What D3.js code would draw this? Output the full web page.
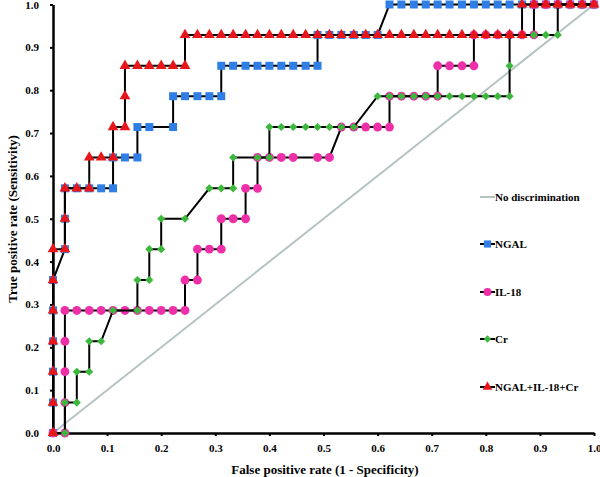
<!DOCTYPE html>
<html><head><meta charset="utf-8">
<script src="https://cdn.jsdelivr.net/npm/d3@7"></script>
<style>
html,body{margin:0;padding:0;background:#fff;}
svg text{font-family:"Liberation Serif","Times New Roman",serif;font-weight:bold;fill:#000;}
</style></head>
<body><svg id="c" width="600" height="477"></svg>
<script>
const xTicks = [0,0.1,0.2,0.3,0.4,0.5,0.6,0.7,0.8,0.9,1.0];
const yTicks = [0,0.1,0.2,0.3,0.4,0.5,0.6,0.7,0.8,0.9,1.0];
const legendLabels = ["No discrimination","NGAL","IL-18","Cr","NGAL+IL-18+Cr"];

const ngal = [[0,0],[0,0.071],[0,0.143],[0,0.214],[0,0.286],[0,0.357],[0.022,0.429],[0.022,0.5],[0.022,0.571],[0.044,0.571],[0.067,0.571],[0.089,0.571],[0.111,0.571],[0.111,0.643],[0.133,0.643],[0.156,0.643],[0.156,0.714],[0.178,0.714],[0.222,0.714],[0.222,0.786],[0.244,0.786],[0.267,0.786],[0.289,0.786],[0.311,0.786],[0.311,0.857],[0.333,0.857],[0.356,0.857],[0.378,0.857],[0.4,0.857],[0.422,0.857],[0.444,0.857],[0.467,0.857],[0.489,0.857],[0.489,0.929],[0.511,0.929],[0.533,0.929],[0.556,0.929],[0.578,0.929],[0.6,0.929],[0.622,1],[0.644,1],[0.667,1],[0.689,1],[0.711,1],[0.733,1],[0.756,1],[0.778,1],[0.8,1],[0.822,1],[0.844,1],[0.867,1],[0.889,1],[0.911,1],[0.933,1],[0.956,1],[0.978,1],[1,1]];

const il18 = [[0,0],[0.022,0],[0.022,0.071],[0.022,0.143],[0.022,0.214],[0.022,0.286],[0.044,0.286],[0.067,0.286],[0.089,0.286],[0.111,0.286],[0.133,0.286],[0.156,0.286],[0.178,0.286],[0.2,0.286],[0.222,0.286],[0.244,0.286],[0.244,0.357],[0.267,0.357],[0.267,0.429],[0.289,0.429],[0.311,0.429],[0.311,0.5],[0.333,0.5],[0.356,0.5],[0.356,0.571],[0.378,0.571],[0.378,0.643],[0.4,0.643],[0.422,0.643],[0.444,0.643],[0.489,0.643],[0.511,0.643],[0.533,0.714],[0.556,0.714],[0.578,0.714],[0.6,0.714],[0.622,0.714],[0.622,0.786],[0.644,0.786],[0.667,0.786],[0.689,0.786],[0.711,0.786],[0.711,0.857],[0.733,0.857],[0.756,0.857],[0.778,0.857],[0.778,0.929],[0.8,0.929],[0.822,0.929],[0.844,0.929],[0.867,0.929],[0.889,0.929],[0.889,1],[0.911,1],[0.933,1],[0.956,1],[0.978,1],[1,1]];

const cr = [[0,0],[0.022,0],[0.022,0.071],[0.044,0.071],[0.044,0.143],[0.067,0.143],[0.067,0.214],[0.089,0.214],[0.111,0.286],[0.156,0.286],[0.156,0.357],[0.178,0.357],[0.178,0.429],[0.2,0.429],[0.2,0.5],[0.244,0.5],[0.289,0.571],[0.311,0.571],[0.333,0.571],[0.333,0.643],[0.378,0.643],[0.4,0.643],[0.4,0.714],[0.422,0.714],[0.444,0.714],[0.467,0.714],[0.489,0.714],[0.511,0.714],[0.533,0.714],[0.556,0.714],[0.6,0.786],[0.622,0.786],[0.644,0.786],[0.667,0.786],[0.689,0.786],[0.711,0.786],[0.733,0.786],[0.756,0.786],[0.778,0.786],[0.8,0.786],[0.822,0.786],[0.844,0.786],[0.844,0.857],[0.844,0.929],[0.867,0.929],[0.889,0.929],[0.911,0.929],[0.933,0.929],[0.933,1],[0.956,1],[0.978,1],[1,1]];

const combo = [[0,0],[0,0.071],[0,0.143],[0,0.214],[0,0.286],[0,0.357],[0,0.429],[0.022,0.429],[0.022,0.5],[0.022,0.571],[0.044,0.571],[0.067,0.571],[0.067,0.643],[0.089,0.643],[0.111,0.643],[0.111,0.714],[0.133,0.714],[0.133,0.786],[0.133,0.857],[0.156,0.857],[0.178,0.857],[0.2,0.857],[0.222,0.857],[0.244,0.857],[0.244,0.929],[0.267,0.929],[0.289,0.929],[0.311,0.929],[0.333,0.929],[0.356,0.929],[0.378,0.929],[0.4,0.929],[0.422,0.929],[0.444,0.929],[0.467,0.929],[0.489,0.929],[0.511,0.929],[0.533,0.929],[0.556,0.929],[0.578,0.929],[0.6,0.929],[0.622,0.929],[0.644,0.929],[0.667,0.929],[0.689,0.929],[0.711,0.929],[0.733,0.929],[0.756,0.929],[0.778,0.929],[0.8,0.929],[0.822,0.929],[0.844,0.929],[0.867,0.929],[0.867,1],[0.889,1],[0.911,1],[0.933,1],[0.956,1],[0.978,1],[1,1]];

const diag = [[0,0],[1,1]];

const svg = d3.select("#c");
const x = d3.scaleLinear().domain([0,1]).range([53,594]);
const y = d3.scaleLinear().domain([0,1]).range([433,4.5]);

const line = d3.line().x(d=>x(d[0])).y(d=>y(d[1]));
svg.append("path").attr("d",line(diag)).attr("fill","none").attr("stroke","#b7c3c3").attr("stroke-width",2);

const diamond = d3.symbolDiamond2 || d3.symbolDiamond;
const series = [
  {name:"NGAL", data:ngal, color:"#2e7ee6", sym:d3.symbolSquare, size:64},
  {name:"IL-18", data:il18, color:"#ee2fa8", sym:d3.symbolCircle, size:62},
  {name:"Cr", data:cr, color:"#3cb83c", sym:diamond, size:42},
  {name:"NGAL+IL-18+Cr", data:combo, color:"#e8161b", sym:d3.symbolTriangle, size:50}
];

const xAxis = svg.append("g").attr("transform","translate(0,433)")
  .call(d3.axisBottom(x).tickValues(xTicks).tickFormat(d3.format(".1f")).tickSize(3).tickSizeOuter(0).tickPadding(8));
const yAxis = svg.append("g").attr("transform","translate(53,0)")
  .call(d3.axisLeft(y).tickValues(yTicks).tickFormat(d3.format(".1f")).tickSize(3).tickSizeOuter(0).tickPadding(11));
[xAxis,yAxis].forEach(a=>{
  a.select(".domain").attr("stroke","#000").attr("stroke-width",2.5);
  a.selectAll(".tick line").attr("stroke","#000").attr("stroke-width",2);
  a.selectAll("text").style("font-size","11px").style("font-family","'Liberation Serif',serif").style("font-weight","bold");
});

series.forEach(s=>{
  const g = svg.append("g");
  g.append("path").attr("d",line(s.data)).attr("fill","none").attr("stroke","#000").attr("stroke-width",2);
  g.selectAll("path.m").data(s.data).enter().append("path").attr("class","m")
    .attr("transform",d=>`translate(${x(d[0])},${y(d[1])})`)
    .attr("d",d3.symbol().type(s.sym).size(s.size)())
    .attr("fill",s.color);
});

svg.append("text").attr("x",325).attr("y",474).attr("text-anchor","middle").style("font-size","13px").text("False positive rate (1 - Specificity)");
svg.append("text").attr("transform","translate(17,219) rotate(-90)").attr("text-anchor","middle").style("font-size","13px").text("True positive rate (Sensitivity)");

const legY = [197,244,292,339,387];
legendLabels.forEach((lab,i)=>{
  const g = svg.append("g").attr("transform",`translate(0,${legY[i]})`);
  if(i===0){
    g.append("line").attr("x1",480).attr("x2",495).attr("stroke","#b7c3c3").attr("stroke-width",2);
  } else {
    const s = series[i-1];
    g.append("line").attr("x1",480).attr("x2",495).attr("stroke","#000").attr("stroke-width",2);
    g.append("path").attr("transform","translate(487.5,0)").attr("d",d3.symbol().type(s.sym).size(s.size*0.8)()).attr("fill",s.color);
  }
  g.append("text").attr("x",495).attr("y",4).style("font-size","11px").text(lab);
});
</script></body></html>
